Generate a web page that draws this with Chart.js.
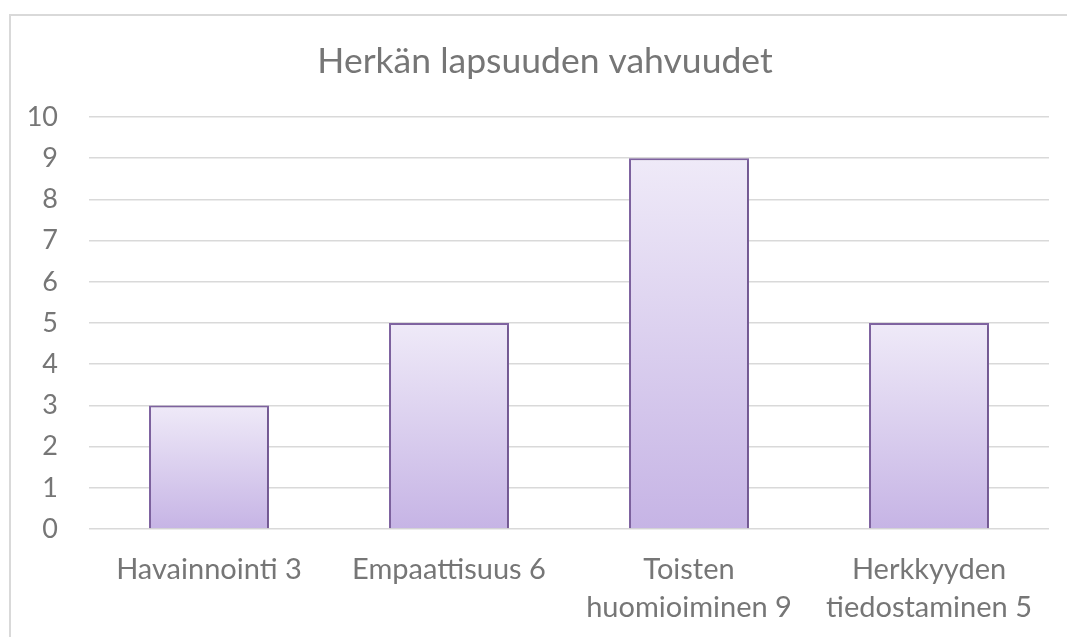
<!DOCTYPE html>
<html>
<head>
<meta charset="utf-8">
<script src="https://cdn.jsdelivr.net/npm/chart.js@4/dist/chart.umd.min.js"></script>
<style>
  body { margin: 0; background: #fff; }
  canvas { display: block; }
</style>
</head>
<body>
<canvas id="chart1" width="1067" height="637"></canvas>
<script>
'use strict';

var CATEGORIES = [
  'Havainnointi 3',
  'Empaattisuus 6',
  ['Toisten', 'huomioiminen 9'],
  ['Herkkyyden', 'tiedostaminen 5'],
];
var VALUES = [3, 5, 9, 5];
var Y_MIN = 0;
var Y_MAX = 10;
var TITLE = 'Herkän lapsuuden vahvuudet';

var TEXT_COLOR = '#767676';
var FONT_FAMILY = 'Lato, "Open Sans", sans-serif';

// outer frame of the chart object + title centred on the frame (not the canvas)
var framePlugin = {
  id: 'frame',
  beforeDraw: function (chart) {
    var c = chart.ctx;
    c.save();
    c.fillStyle = '#fff';
    c.fillRect(0, 0, chart.width, chart.height);
    c.strokeStyle = '#d9d9d9';
    c.lineWidth = 2;
    c.strokeRect(10, 15, chart.width + 20, chart.height + 20);
    c.restore();
  },
  afterDraw: function (chart) {
    var c = chart.ctx;
    c.save();
    c.fillStyle = TEXT_COLOR;
    c.font = '35.5px ' + FONT_FAMILY;
    c.textAlign = 'center';
    c.textBaseline = 'middle';
    c.fillText(TITLE, 545, 62);
    c.restore();
  },
};

// soft shadow under the bars
var shadowPlugin = {
  id: 'barShadow',
  beforeDatasetDraw: function (chart) {
    var c = chart.ctx;
    c.save();
    c.shadowColor = 'rgba(0,0,0,0.18)';
    c.shadowBlur = 3;
    c.shadowOffsetX = 1;
    c.shadowOffsetY = 1;
  },
  afterDatasetDraw: function (chart) {
    chart.ctx.restore();
  },
};

var barGradient = function (context) {
  var chart = context.chart;
  if (!chart.chartArea) return '#d6c9ee';
  var y = chart.scales.y;
  var v = context.raw;
  var top = y.getPixelForValue(v);
  var bottom = y.getPixelForValue(0);
  var g = chart.ctx.createLinearGradient(0, top, 0, bottom);
  g.addColorStop(0, '#efeaf8');
  g.addColorStop(1, '#c6b4e5');
  return g;
};

var ctx = document.getElementById('chart1').getContext('2d');
/* eslint-disable-next-line no-unused-vars */
var myChart = new Chart(ctx, {
  type: 'bar',
  plugins: [framePlugin, shadowPlugin],
  data: {
    labels: CATEGORIES,
    datasets: [
      {
        data: VALUES,
        backgroundColor: barGradient,
        borderColor: '#8064a2',
        borderWidth: 2,
        barPercentage: 0.5,
        categoryPercentage: 1,
      },
    ],
  },
  options: {
    responsive: false,
    animation: false,
    layout: {
      padding: { left: 0, right: 18, top: 117, bottom: 0 },
    },
    plugins: {
      legend: { display: false },
      tooltip: { enabled: false },
      title: { display: false },
    },
    scales: {
      x: {
        grid: { display: false, drawTicks: false },
        border: { display: false },
        ticks: {
          color: TEXT_COLOR,
          font: { family: FONT_FAMILY, size: 29, lineHeight: 1.31 },
          padding: 22,
          maxRotation: 0,
          autoSkip: false,
        },
        afterFit: function (scale) {
          scale.height = 108;
        },
      },
      y: {
        min: Y_MIN,
        max: Y_MAX,
        grid: { color: '#d9d9d9', lineWidth: 1.5, drawTicks: false },
        border: { display: false },
        ticks: {
          stepSize: 1,
          color: TEXT_COLOR,
          font: { family: FONT_FAMILY, size: 27 },
          padding: 31,
        },
        afterFit: function (scale) {
          scale.width = 89;
        },
      },
    },
  },
});
</script>
</body>
</html>
